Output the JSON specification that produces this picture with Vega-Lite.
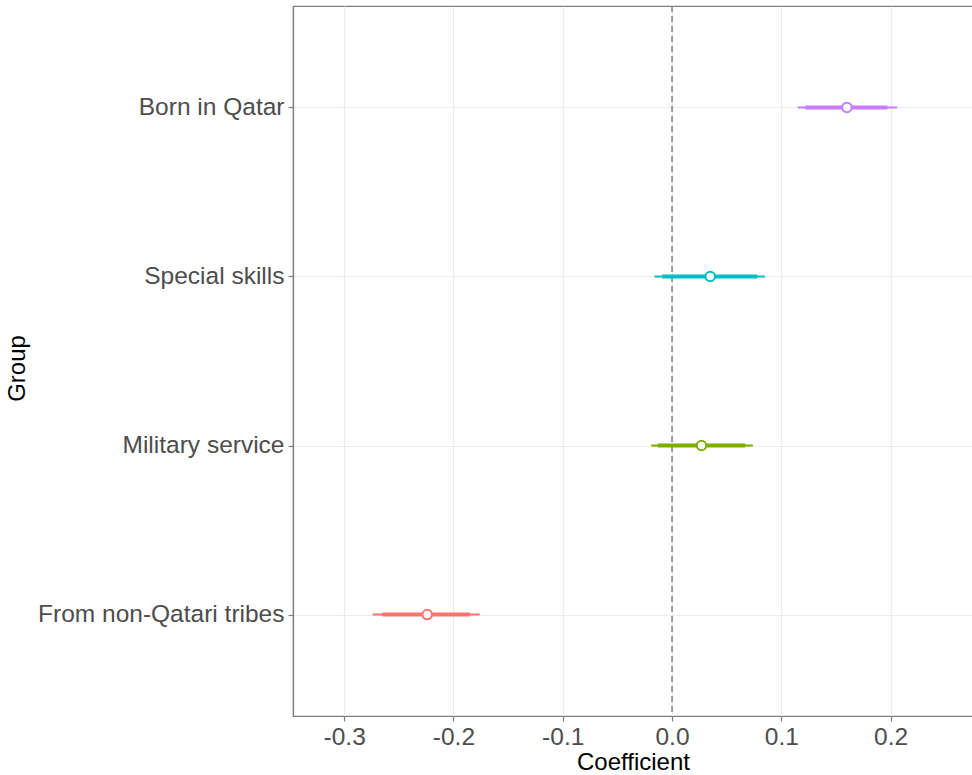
{
  "$schema": "https://vega.github.io/schema/vega-lite/v6.json",
  "autosize": "none",
  "width": 680,
  "height": 710,
  "padding": {"left": 293, "top": 6, "right": 0, "bottom": 59},
  "background": "white",
  "config": {
    "font": "Liberation Sans",
    "view": {"stroke": "#7f7f7f", "strokeWidth": 1.2},
    "axis": {
      "gridColor": "#ebebeb",
      "gridWidth": 1.2,
      "domainColor": "#7f7f7f",
      "domainWidth": 1.2,
      "tickColor": "#7f7f7f",
      "tickSize": 5,
      "tickWidth": 1.2,
      "labelColor": "#4d4d4d",
      "labelFontSize": 24.5,
      "labelLimit": 500,
      "labelPadding": 4,
      "titleColor": "#000000",
      "titleFontSize": 24,
      "titleFontWeight": "normal"
    }
  },
  "data": {
    "values": [
      {"group": "Born in Qatar", "est": 0.160, "lo95": 0.115, "hi95": 0.206, "lo90": 0.122, "hi90": 0.197},
      {"group": "Special skills", "est": 0.035, "lo95": -0.016, "hi95": 0.085, "lo90": -0.009, "hi90": 0.078},
      {"group": "Military service", "est": 0.027, "lo95": -0.019, "hi95": 0.074, "lo90": -0.013, "hi90": 0.067},
      {"group": "From non-Qatari tribes", "est": -0.224, "lo95": -0.274, "hi95": -0.176, "lo90": -0.265, "hi90": -0.185}
    ]
  },
  "encoding": {
    "y": {
      "field": "group",
      "type": "nominal",
      "sort": ["Born in Qatar", "Special skills", "Military service", "From non-Qatari tribes"],
      "scale": {"type": "point", "padding": 0.6},
      "title": "Group",
      "axis": {"grid": true, "titleX": -264, "titleY": 362, "titleBaseline": "bottom"}
    },
    "color": {
      "field": "group",
      "type": "nominal",
      "scale": {
        "domain": ["From non-Qatari tribes", "Military service", "Special skills", "Born in Qatar"],
        "range": ["#F8766D", "#7CAE00", "#00BFC4", "#C77CFF"]
      },
      "legend": null
    }
  },
  "layer": [
    {
      "data": {"values": [{"zero": 0}]},
      "mark": {"type": "rule", "strokeDash": [6, 4], "strokeWidth": 1.5, "color": "#7f7f7f"},
      "encoding": {
        "x": {"field": "zero", "type": "quantitative"},
        "y": null,
        "color": null
      }
    },
    {
      "mark": {"type": "rule", "strokeWidth": 2},
      "encoding": {
        "x": {
          "field": "lo95",
          "type": "quantitative",
          "scale": {"domain": [-0.3468, 0.2754], "nice": false, "zero": false},
          "axis": {
            "values": [-0.3, -0.2, -0.1, 0, 0.1, 0.2],
            "labelExpr": "replace(format(datum.value, '.1f'), '\u2212', '-')",
            "grid": true,
            "titlePadding": 2
          },
          "title": "Coefficient"
        },
        "x2": {"field": "hi95"}
      }
    },
    {
      "mark": {"type": "rule", "strokeWidth": 4},
      "encoding": {
        "x": {"field": "lo90", "type": "quantitative"},
        "x2": {"field": "hi90"}
      }
    },
    {
      "mark": {"type": "point", "filled": false, "fill": "white", "size": 90, "strokeWidth": 2, "opacity": 1},
      "encoding": {
        "x": {"field": "est", "type": "quantitative"}
      }
    }
  ]
}
